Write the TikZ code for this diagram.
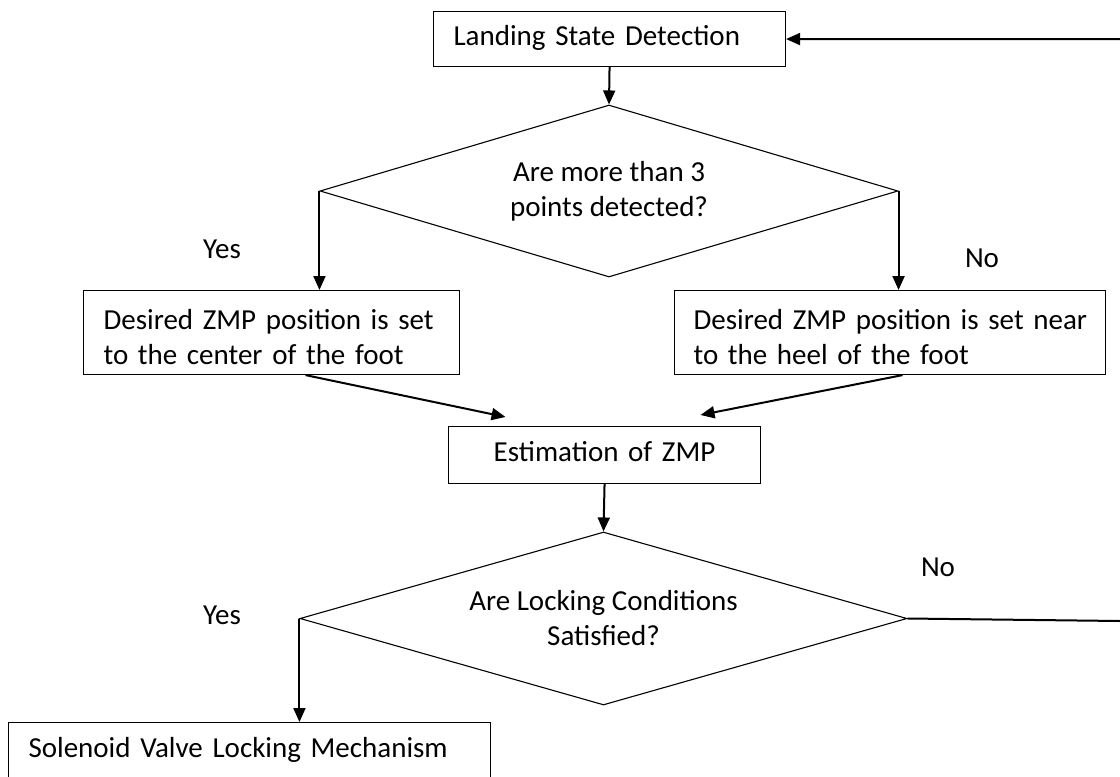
\documentclass[tikz,border=0pt]{standalone}
\usepackage{fontspec}
\setmainfont{Carlito}
\usetikzlibrary{arrows.meta,shapes.geometric,calc}
\newcommand\tstrut{\rule{0pt}{29pt}}
\newcommand\sstrut{\rule[-7pt]{0pt}{26pt}}
\begin{document}
\begin{tikzpicture}[x=1pt,y=-1pt,
  every node/.style={font=\fontsize{29}{35}\selectfont, inner sep=0pt},
  box/.style={draw, line width=1.1pt, anchor=north west, align=left},
  dec/.style={draw, line width=1.1pt, diamond, align=center},
  conn/.style={line width=2pt},
  arr/.style={conn, -{Triangle[length=14pt,width=12pt]}},
  lbl/.style={anchor=base}]
\clip (0,0) rectangle (1120,777);
\fill[white] (0,0) rectangle (1120,777);

\node[box, text width=352pt, minimum height=55pt] (land) at (433,11)
  {\mbox{\hspace*{20pt}\sstrut Landing State Detection}};
\node[dec, aspect=3.36, minimum width=578pt, minimum height=172pt] (d1) at (609,191)
  {Are more than 3\\points detected?};
\node[box, text width=376pt, minimum height=84pt] (yesb) at (83,290)
  {\mbox{\hspace*{20pt}\tstrut Desired ZMP position is set}\\\mbox{\hspace*{20pt}to the center of the foot}};
\node[box, text width=431pt, minimum height=84pt] (nob) at (674,290)
  {\mbox{\hspace*{19pt}\tstrut Desired ZMP position is set near}\\\mbox{\hspace*{19pt}to the heel of the foot}};
\node[box, align=center, text width=312pt, minimum height=57pt] (est) at (448,426)
  {\sstrut Estimation of ZMP};
\node[dec, aspect=3.5, minimum width=607pt, minimum height=173pt] (d2) at (603.5,618.5)
  {Are Locking Conditions\\Satisfied?};
\node[box, text width=482pt, minimum height=57pt] (sol) at (8,722)
  {\mbox{\hspace*{20pt}\sstrut Solenoid Valve Locking Mechanism}};

\node[lbl] (y1) at (222,258) {Yes};
\node[lbl] (n1) at (982,267) {No};
\node[lbl] (y2) at (222,624) {Yes};
\node[lbl] (n2) at (938,576) {No};

\coordinate (r1) at (1120,39);
\coordinate (r2) at (1120,621);

\draw[arr] (r1) -- (land.east);
\draw[arr] (land.south) -- (d1.north);
\draw[arr] (d1.west) -- (d1.west |- yesb.north);
\draw[arr] (d1.east) -- (d1.east |- nob.north);
\draw[arr] ([xshift=34pt]yesb.south) -- ([xshift=-99pt,yshift=9pt]est.north);
\draw[arr] ([xshift=12.5pt]nob.south) -- ([xshift=96pt,yshift=11pt]est.north);
\draw[arr] (est.south) -- (d2.north);
\draw[arr] (d2.west) -- (d2.west |- sol.north);
\draw[conn] (d2.east) -- (r2);
\end{tikzpicture}
\end{document}
